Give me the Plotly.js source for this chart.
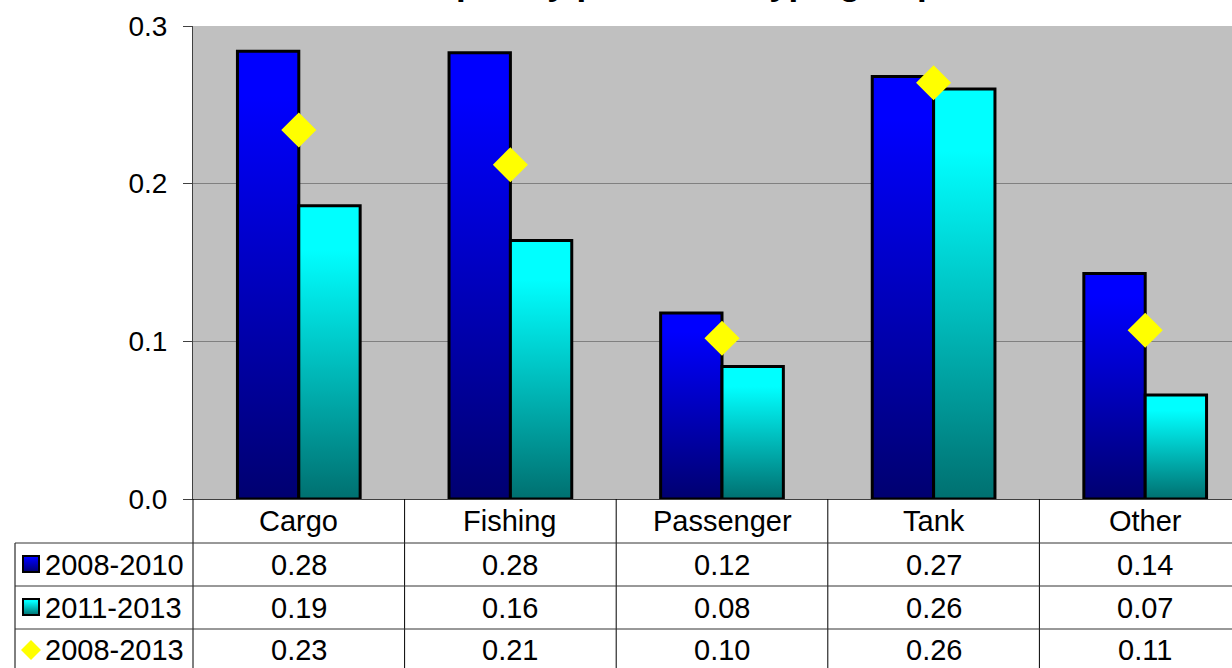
<!DOCTYPE html>
<html>
<head>
<meta charset="utf-8">
<script src="https://cdn.plot.ly/plotly-3.0.1.min.js"></script>
<style>
  html, body { margin: 0; padding: 0; overflow: hidden; background: #ffffff; }
  #chart { width: 1260px; height: 668px; }
</style>
</head>
<body>
<div id="chart"></div>
<script>
// ---- data ----
const categories = ['Cargo', 'Fishing', 'Passenger', 'Tank', 'Other'];
const seriesNames = ['2008-2010', '2011-2013', '2008-2013'];
const s2008_2010 = [0.284, 0.283, 0.118, 0.268, 0.143];
const s2011_2013 = [0.186, 0.164, 0.084, 0.260, 0.066];
const s2008_2013 = [0.234, 0.212, 0.102, 0.264, 0.107];
const yTicks = [0, 0.1, 0.2, 0.3];
const titleText = 'Accident frequency per vessel type group';

// ---- layout helpers (pixel -> paper) ----
const W = 1260, H = 668;
const M = { l: 193, r: 9, t: 26, b: 169 };
const PW = W - M.l - M.r, PH = H - M.t - M.b;
const px = p => (p - M.l) / PW;
const py = p => (H - M.b - p) / PH;

const FONT = 'Liberation Sans, Arial, sans-serif';

const data = [
  {
    type: 'bar', name: seriesNames[0], x: categories, y: s2008_2010,
    marker: { color: '#0000FF', line: { color: '#000000', width: 3 } }
  },
  {
    type: 'bar', name: seriesNames[1], x: categories, y: s2011_2013,
    marker: { color: '#00FFFF', line: { color: '#000000', width: 3 } }
  },
  {
    type: 'scatter', mode: 'markers', name: seriesNames[2], x: categories, y: s2008_2013,
    marker: { symbol: 'diamond', size: 27, color: '#FFFF00', line: { width: 0 } },
    cliponaxis: false
  }
];

const shapes = [];
const annotations = [];

// table vertical lines at category boundaries
for (let i = 0; i <= categories.length; i++) {
  shapes.push({ type: 'line', xref: 'paper', yref: 'paper', x0: i / categories.length, x1: i / categories.length,
    y0: 0, y1: py(H + 5), line: { color: '#000000', width: 1 } });
}
// left table edge
shapes.push({ type: 'line', xref: 'paper', yref: 'paper', x0: px(15), x1: px(15),
  y0: py(543), y1: py(H + 5), line: { color: '#000000', width: 1 } });
// horizontal row lines
[543, 586, 629].forEach(r => {
  shapes.push({ type: 'line', xref: 'paper', yref: 'paper', x0: px(15), x1: 1.05,
    y0: py(r), y1: py(r), line: { color: '#333333', width: 1 } });
});

// legend keys
shapes.push({ type: 'rect', xref: 'paper', yref: 'paper', x0: px(23), x1: px(39), y0: py(556), y1: py(572),
  fillcolor: '#0000FF', line: { color: '#000000', width: 2 } });
shapes.push({ type: 'rect', xref: 'paper', yref: 'paper', x0: px(23), x1: px(39), y0: py(599), y1: py(615),
  fillcolor: '#00FFFF', line: { color: '#000000', width: 2 } });
(function () {
  const cx = px(31), cy = py(650), dx = 10 / PW, dy = 10 / PH;
  shapes.push({ type: 'path', xref: 'paper', yref: 'paper',
    path: `M ${cx - dx},${cy} L ${cx},${cy + dy} L ${cx + dx},${cy} L ${cx},${cy - dy} Z`,
    fillcolor: '#FFFF00', line: { width: 0 } });
})();

// header row (category names)
const rowY = [py(521), py(564.5), py(607.5), py(650)];
const txtFont = { family: FONT, size: 29, color: '#000000' };
categories.forEach(c => {
  annotations.push({ xref: 'x', yref: 'paper', x: c, y: rowY[0], text: c, showarrow: false,
    xanchor: 'center', yanchor: 'middle', font: txtFont });
});
const rows = [s2008_2010, s2011_2013, s2008_2013];
rows.forEach((vals, r) => {
  annotations.push({ xref: 'paper', yref: 'paper', x: px(43), y: rowY[r + 1], text: seriesNames[r],
    showarrow: false, xanchor: 'left', yanchor: 'middle', font: txtFont });
  vals.forEach((v, i) => {
    annotations.push({ xref: 'x', yref: 'paper', x: categories[i], y: rowY[r + 1], text: v.toFixed(2),
      showarrow: false, xanchor: 'center', yanchor: 'middle', font: txtFont });
  });
});

// title (mostly cut off at the top of the picture, as in the reference)
annotations.push({ xref: 'paper', yref: 'paper', x: px(240), y: py(4), text: '<b>' + titleText + '</b>',
  showarrow: false, xanchor: 'left', yanchor: 'bottom',
  font: { family: FONT, size: 35, color: '#000000' } });

const layout = {
  width: W, height: H,
  margin: { l: M.l, r: M.r, t: M.t, b: M.b, pad: 0 },
  paper_bgcolor: '#FFFFFF',
  plot_bgcolor: '#C0C0C0',
  showlegend: false,
  barmode: 'group',
  bargap: 0.42,
  bargroupgap: 0,
  font: { family: FONT, size: 28, color: '#000000' },
  xaxis: {
    type: 'category', showticklabels: false, ticks: '', showgrid: false,
    showline: true, linecolor: '#404040', linewidth: 1, zeroline: false, fixedrange: true
  },
  yaxis: {
    range: [0, 0.3], tickvals: yTicks, tickformat: '.1f',
    ticks: 'outside', ticklen: 9, tickcolor: '#404040', tickwidth: 1,
    ticklabelstandoff: 10,
    tickfont: { family: FONT, size: 28, color: '#000000' },
    showgrid: true, gridcolor: '#808080', gridwidth: 1,
    showline: true, linecolor: '#404040', linewidth: 1, zeroline: false, fixedrange: true
  },
  shapes: shapes,
  annotations: annotations
};

Plotly.newPlot('chart', data, layout, { staticPlot: true, displayModeBar: false }).then(gd => {
  const svg = gd.querySelector('.main-svg');
  const NS = 'http://www.w3.org/2000/svg';
  let defs = svg.querySelector('defs');
  if (!defs) { defs = document.createElementNS(NS, 'defs'); svg.insertBefore(defs, svg.firstChild); }
  function grad(id, stops) {
    const g = document.createElementNS(NS, 'linearGradient');
    g.setAttribute('id', id);
    g.setAttribute('x1', '0'); g.setAttribute('y1', '0');
    g.setAttribute('x2', '0'); g.setAttribute('y2', '1');
    stops.forEach(s => {
      const st = document.createElementNS(NS, 'stop');
      st.setAttribute('offset', s[0]);
      st.setAttribute('stop-color', s[1]);
      g.appendChild(st);
    });
    defs.appendChild(g);
  }
  grad('gBlue', [[0, '#0000FF'], [0.1, '#0000FF'], [1, '#000070']]);
  grad('gCyan', [[0, '#00FFFF'], [0.15, '#00FFFF'], [1, '#007070']]);
  const traces = gd.querySelectorAll('.barlayer .trace');
  if (traces[0]) traces[0].querySelectorAll('path').forEach(p => { p.style.fill = 'url(#gBlue)'; });
  if (traces[1]) traces[1].querySelectorAll('path').forEach(p => { p.style.fill = 'url(#gCyan)'; });
  gd.querySelectorAll('.shapelayer path').forEach(p => {
    const f = p.style.fill.replace(/\s/g, '');
    if (f === 'rgb(0,0,255)') p.style.fill = 'url(#gBlue)';
    if (f === 'rgb(0,255,255)') p.style.fill = 'url(#gCyan)';
  });
});
</script>
</body>
</html>
